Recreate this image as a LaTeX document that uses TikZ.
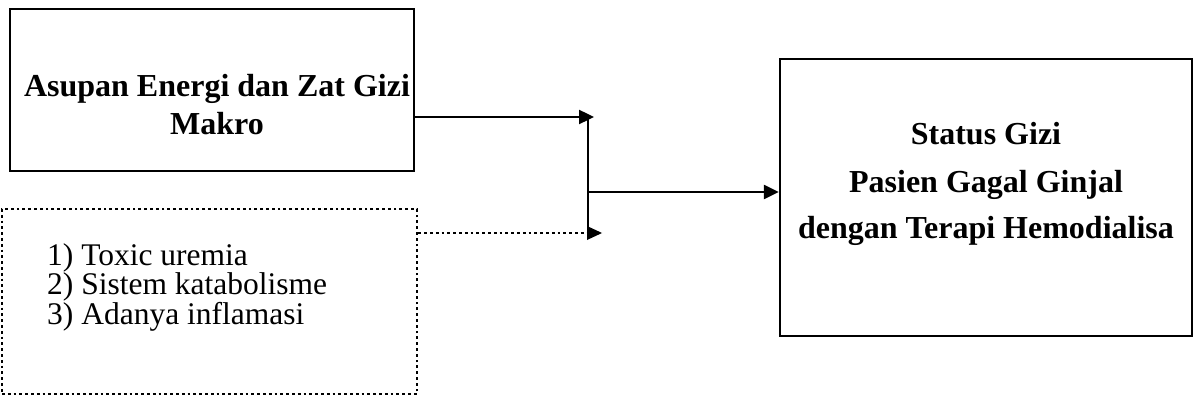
\documentclass[tikz,border=0pt]{standalone}
\usepackage{fontspec}
\setmainfont{Liberation Serif}
\usetikzlibrary{arrows.meta}
\begin{document}
\begin{tikzpicture}[x=1pt,y=-1pt,
  box/.style={draw=black, line width=2.4pt, inner sep=0pt, fill=none},
  dotbox/.style={draw=black, line width=2.8pt, dash pattern=on 2.8pt off 3pt, inner sep=0pt},
  btxt/.style={font=\fontsize{32}{38}\selectfont\bfseries, anchor=base, inner sep=0pt},
  ltxt/.style={font=\fontsize{31.5}{28}\selectfont, anchor=north west, align=left, inner sep=0pt},
  arr/.style={line width=2.4pt, -{Triangle[length=15pt,width=14pt]}},
  darr/.style={line width=2.8pt, dash pattern=on 2.8pt off 3pt, -{Triangle[length=15pt,width=14pt,line width=0pt]}},
  bar/.style={line width=1.6pt}]
\useasboundingbox[fill=white] (0,0) rectangle (1194,401);
% boxes
\node[box, minimum width=404pt, minimum height=162pt] (asupan) at (212,90) {};
\node[dotbox, minimum width=415pt, minimum height=185pt] (faktor) at (209.5,301.5) {};
\node[box, minimum width=412pt, minimum height=277pt] (status) at (986,197.5) {};
% texts
\node[btxt] (t1) at (217,97) {Asupan Energi dan Zat Gizi};
\node[btxt] (t2) at (217,134.5) {Makro};
\node[ltxt] (list) at (47,243) {1) Toxic uremia\\2) Sistem katabolisme\\3) Adanya inflamasi};
\node[btxt] (s1) at (986,145) {Status Gizi};
\node[btxt] (s2) at (986,192) {Pasien Gagal Ginjal};
\node[btxt] (s3) at (986,238.5) {dengan Terapi Hemodialisa};
% junction
\coordinate (bartop) at (588,117);
\coordinate (barbot) at (588,233);
\coordinate (barmid) at (588,192);
\coordinate (tip1) at (594,117);
\coordinate (tip2) at (602,233);
\draw[bar] (bartop) -- (barbot);
\draw[arr] (asupan.east |- tip1) -- (tip1);
\draw[darr] (faktor.east |- tip2) -- (tip2);
\draw[arr] (barmid) -- (status.west |- barmid);
\end{tikzpicture}
\end{document}
